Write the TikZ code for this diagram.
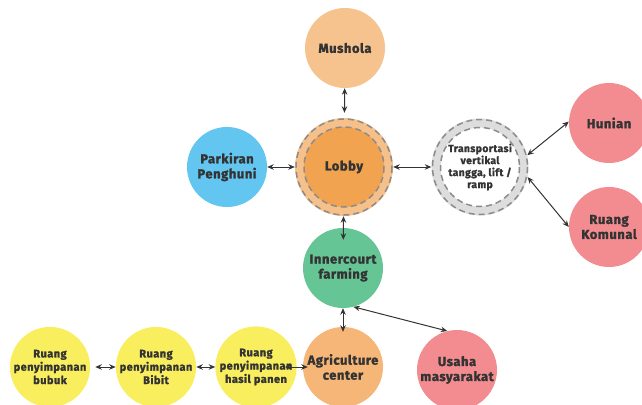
\documentclass[tikz,border=0pt]{standalone}
\usepackage{fontspec}
\setmainfont{Fira Sans}[LetterSpace=4,BoldFeatures={FakeBold=1.6}]
\usetikzlibrary{arrows.meta}
\definecolor{txt}{HTML}{333333}
\definecolor{arr}{HTML}{333333}
\definecolor{mush}{HTML}{F6C28D}
\definecolor{lobout}{HTML}{F6C08A}
\definecolor{lobin}{HTML}{F2A34F}
\definecolor{park}{HTML}{62C6F1}
\definecolor{ring}{HTML}{DDDDDD}
\definecolor{pink}{HTML}{F28C90}
\definecolor{green}{HTML}{66C594}
\definecolor{agri}{HTML}{F5B677}
\definecolor{yel}{HTML}{F9EF5E}
\definecolor{dashc}{HTML}{8C8C8C}
\begin{document}
\begin{tikzpicture}[x=1pt,y=-1pt,
  bub/.style={circle,minimum size=80pt,inner sep=0pt,align=center,text=txt,
    font=\bfseries\fontsize{13}{15}\selectfont},
  ybub/.style={bub,fill=yel,font=\bfseries\fontsize{11}{13.3}\selectfont},
  ringnode/.style={circle,inner sep=0pt},
  conn/.style={{Stealth[length=6.5pt,width=5.5pt]}-{Stealth[length=6.5pt,width=5.5pt]},line width=1pt,draw=arr},
  dsh/.style={draw=dashc,line width=1.5pt,dash pattern=on 6pt off 4pt}]
\useasboundingbox (0,0) rectangle (642,404);
\clip (0,0) rectangle (642,404);

% nodes
\node[bub,fill=mush] (mushola) at (345,48) {Mushola};
\node[ringnode,fill=lobout,minimum size=98pt] (lobby) at (344,167) {};
\node[bub,fill=lobin,minimum size=80pt] (lobbyin) at (lobby.center) {Lobby};
\draw[dsh] (lobby.center) circle (48);
\draw[dsh] (lobby.center) circle (40);
\node[bub,fill=park] (parkiran) at (227,167) {Parkiran\\Penghuni};
\node[ringnode,fill=ring,minimum size=97pt] (trans) at (480,167) {};
\node[bub,fill=white,minimum size=78pt,font=\bfseries\fontsize{10.3}{12}\selectfont] (transin) at (trans.center) {Transportasi\\vertikal\\tangga, lift /\\ramp};
\draw[dsh] (trans.center) circle (47.5);
\draw[dsh] (trans.center) circle (39.5);
\node[bub,fill=pink] (hunian) at (609,123) {Hunian};
\node[bub,fill=pink] (komunal) at (609,227) {Ruang\\Komunal};
\node[bub,fill=green] (inner) at (343,268) {Innercourt\\farming};
\node[bub,fill=agri] (agri) at (343,367) {Agriculture\\center};
\node[bub,fill=pink] (usaha) at (457,370) {Usaha\\masyarakat};
\node[ybub] (bubuk) at (50,367) {Ruang\\penyimpanan\\bubuk};
\node[ybub] (bibit) at (156,367) {Ruang\\penyimpanan\\Bibit};
\node[ybub] (panen) at (256,367) {Ruang\\penyimpanan\\hasil panen};

% connectors
\draw[conn,shorten >=5pt] (mushola) -- (lobby);
\draw[conn] (parkiran) -- (lobby);
\draw[conn] (lobby) -- (trans);
\draw[conn,shorten >=-12pt] (lobby) -- (inner);
\draw[conn,shorten >=-5pt] (inner) -- (agri);
\draw[conn] (inner.-75) -- (usaha.104);
\draw[conn] (trans.14) -- (hunian.178);
\draw[conn] (trans.-12) -- (komunal.180);
\draw[conn,shorten <=5pt] (bubuk) -- (bibit);
\draw[conn] (bibit) -- (panen);
\draw[conn,shorten <=-12pt,shorten >=-5pt] (panen) -- (agri);
\end{tikzpicture}
\end{document}
